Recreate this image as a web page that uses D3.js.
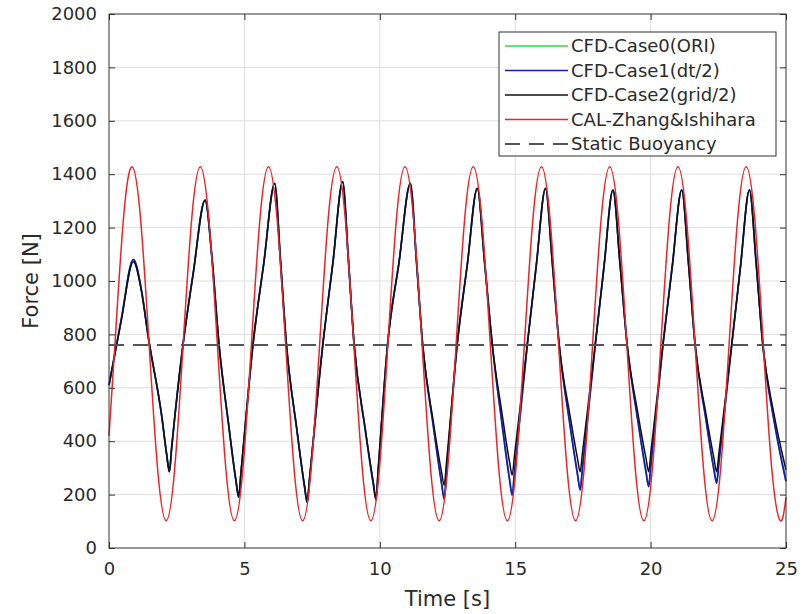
<!DOCTYPE html>
<html>
<head>
<meta charset="utf-8">
<script src="https://cdn.jsdelivr.net/npm/d3@7"></script>
<style>
  body { margin: 0; background: #fff; }
  svg text { font-family: "DejaVu Sans", sans-serif; fill: #2b2b2b; }
</style>
</head>
<body>
<svg width="811" height="614"></svg>
<script>
// --- data ---
var xTicks = [0, 5, 10, 15, 20, 25];
var yTicks = [0, 200, 400, 600, 800, 1000, 1200, 1400, 1600, 1800, 2000];
var staticBuoyancy = 760;

// CAL-Zhang&Ishihara [time, force]
var zhang = [
  [0, 420], [0.22, 765], [0.535, 1234],
  [0.85, 1428], [1.165, 1234], [1.48, 765], [1.795, 296], [2.11, 102], [2.425, 296], [2.74, 765], [3.055, 1234],
  [3.37, 1428], [3.685, 1234], [4.0, 765], [4.315, 296], [4.63, 102], [4.945, 296], [5.26, 765], [5.575, 1234],
  [5.89, 1428], [6.205, 1234], [6.52, 765], [6.835, 296], [7.15, 102], [7.465, 296], [7.78, 765], [8.095, 1234],
  [8.41, 1428], [8.725, 1234], [9.04, 765], [9.355, 296], [9.67, 102], [9.985, 296], [10.3, 765], [10.615, 1234],
  [10.93, 1428], [11.245, 1234], [11.56, 765], [11.875, 296], [12.19, 102], [12.505, 296], [12.82, 765], [13.135, 1234],
  [13.45, 1428], [13.765, 1234], [14.08, 765], [14.395, 296], [14.71, 102], [15.025, 296], [15.34, 765], [15.655, 1234],
  [15.97, 1428], [16.285, 1234], [16.6, 765], [16.915, 296], [17.23, 102], [17.545, 296], [17.86, 765], [18.175, 1234],
  [18.49, 1428], [18.805, 1234], [19.12, 765], [19.435, 296], [19.75, 102], [20.065, 296], [20.38, 765], [20.695, 1234],
  [21.01, 1428], [21.325, 1234], [21.64, 765], [21.955, 296], [22.27, 102], [22.585, 296], [22.9, 765], [23.215, 1234],
  [23.53, 1428], [23.845, 1234], [24.16, 765], [24.475, 296], [24.79, 102], [25, 190]
];

// CFD sample times, shared by the three CFD cases
var cfdTime = [
  0, 0.45, 0.9, 1.2, 1.45, 1.95, 2.13, 2.23, 2.31, 2.74, 3.11, 3.55,
  3.8, 4.06, 4.42, 4.69, 4.79, 4.87, 5.32, 5.72, 6.12,
  6.33, 6.55, 6.93, 7.22, 7.32, 7.4, 7.9, 8.27, 8.63,
  8.84, 9.05, 9.45, 9.76, 9.86, 9.94, 10.29, 10.71, 11.13,
  11.35, 11.58, 11.98, 12.28, 12.38, 12.46, 12.86, 13.23, 13.6,
  13.87, 14.15, 14.52, 14.79, 14.89, 14.97, 15.45, 15.78, 16.12,
  16.37, 16.62, 17.01, 17.3, 17.4, 17.48, 17.96, 18.28, 18.61,
  18.87, 19.13, 19.53, 19.83, 19.93, 20.01, 20.46, 20.8, 21.15,
  21.4, 21.64, 22.04, 22.34, 22.44, 22.52, 23.0, 23.32, 23.65,
  23.9, 24.14, 24.55, 25
];
// CFD-Case2(grid/2)
var case2 = [
  610, 850, 1072, 960, 791, 492, 350, 286, 371, 767, 1029, 1303,
  1090, 765, 460, 252, 192, 278, 765, 1070, 1366,
  1080, 765, 450, 233, 173, 255, 765, 1070, 1372,
  1080, 765, 455, 246, 186, 294, 765, 1070, 1366,
  1080, 765, 470, 285, 235, 318, 765, 1060, 1347,
  1070, 765, 500, 323, 273, 343, 765, 1060, 1347,
  1070, 765, 505, 336, 286, 354, 765, 1055, 1341,
  1065, 765, 505, 336, 286, 358, 765, 1055, 1341,
  1065, 765, 505, 336, 286, 354, 765, 1055, 1341,
  1065, 765, 505, 292
];
// CFD-Case1(dt/2)
var case1 = [
  610, 855, 1080, 965, 791, 492, 350, 286, 371, 767, 1029, 1303,
  1090, 765, 460, 250, 190, 276, 765, 1070, 1366,
  1080, 765, 448, 230, 170, 252, 765, 1070, 1372,
  1080, 765, 452, 240, 180, 288, 765, 1070, 1366,
  1080, 765, 455, 243, 183, 280, 765, 1060, 1347,
  1070, 765, 460, 258, 198, 279, 765, 1060, 1347,
  1070, 765, 470, 277, 217, 295, 765, 1055, 1341,
  1065, 765, 477, 285, 230, 311, 765, 1055, 1341,
  1065, 765, 484, 293, 243, 318, 765, 1055, 1341,
  1065, 765, 482, 250
];
// CFD-Case0(ORI) lies under Case1 in the figure
var case0 = case1;

var legendNames = ["CFD-Case0(ORI)", "CFD-Case1(dt/2)", "CFD-Case2(grid/2)", "CAL-Zhang&Ishihara", "Static Buoyancy"];
var legendColors = ["#3ad63a", "#1a1ab8", "#111111", "#e8262a", "#555555"];

// --- layout ---
var svg = d3.select("svg");
var margin = {left: 109, top: 14, right: 25, bottom: 66};
var width = +svg.attr("width") - margin.left - margin.right,
    height = +svg.attr("height") - margin.top - margin.bottom;

var x = d3.scaleLinear().domain([0, 25]).range([0, width]);
var y = d3.scaleLinear().domain([0, 2000]).range([height, 0]);

var g = svg.append("g")
    .attr("transform", "translate(" + margin.left + "," + margin.top + ")");

g.append("rect").attr("width", width).attr("height", height).attr("fill", "#fff");

// grid
g.append("g").selectAll("line").data(xTicks.slice(1, -1)).enter().append("line")
    .attr("x1", x).attr("x2", x).attr("y1", 0).attr("y2", height)
    .attr("stroke", "#dedede");
g.append("g").selectAll("line").data(yTicks.slice(1, -1)).enter().append("line")
    .attr("y1", y).attr("y2", y).attr("x1", 0).attr("x2", width)
    .attr("stroke", "#dedede");

var plot = g.append("g");

function cfdLine(vals) {
  return d3.line()
      .x(function(d, i) { return x(cfdTime[i]); })
      .y(function(d) { return y(d); })
      .curve(d3.curveMonotoneX)(vals);
}

plot.append("path").attr("d", cfdLine(case0))
    .attr("fill", "none").attr("stroke", legendColors[0]).attr("stroke-width", 1.6);
plot.append("path").attr("d", cfdLine(case1))
    .attr("fill", "none").attr("stroke", legendColors[1]).attr("stroke-width", 1.8);
plot.append("path").attr("d", cfdLine(case2))
    .attr("fill", "none").attr("stroke", legendColors[2]).attr("stroke-width", 1.5);

plot.append("path")
    .attr("d", d3.line()
      .x(function(d) { return x(d[0]); })
      .y(function(d) { return y(d[1]); })
      .curve(d3.curveNatural)(zhang))
    .attr("fill", "none").attr("stroke", legendColors[3]).attr("stroke-width", 1.5);

plot.append("line")
    .attr("x1", x(0)).attr("x2", x(25))
    .attr("y1", y(staticBuoyancy)).attr("y2", y(staticBuoyancy))
    .attr("stroke", legendColors[4]).attr("stroke-width", 2)
    .attr("stroke-dasharray", "15,9");

// axes (MATLAB style: inward ticks on all sides)
function styleAxis(sel) {
  sel.select(".domain").remove();
  sel.selectAll(".tick line").attr("stroke", "#333");
  sel.selectAll(".tick text").attr("font-size", 18).attr("fill", "#333");
}

g.append("g").attr("transform", "translate(0," + height + ")")
    .call(d3.axisBottom(x).tickValues(xTicks).tickSize(-6).tickPadding(14).tickFormat(d3.format("d")))
    .call(styleAxis);
g.append("g")
    .call(d3.axisTop(x).tickValues(xTicks).tickSize(-6).tickFormat(""))
    .call(styleAxis);
g.append("g")
    .call(d3.axisLeft(y).tickValues(yTicks).tickSize(-6).tickPadding(12).tickFormat(d3.format("d")))
    .call(styleAxis);
g.append("g").attr("transform", "translate(" + width + ",0)")
    .call(d3.axisRight(y).tickValues(yTicks).tickSize(-6).tickFormat(""))
    .call(styleAxis);

g.append("rect").attr("width", width).attr("height", height)
    .attr("fill", "none").attr("stroke", "#333").attr("stroke-width", 1);

// axis labels
svg.append("text")
    .attr("x", margin.left + width / 2).attr("y", 606)
    .attr("text-anchor", "middle").attr("font-size", 21).attr("fill", "#333")
    .text("Time [s]");
svg.append("text")
    .attr("transform", "translate(38," + (margin.top + height / 2) + ") rotate(-90)")
    .attr("text-anchor", "middle").attr("font-size", 21).attr("fill", "#333")
    .text("Force [N]");

// legend
var legend = svg.append("g").attr("transform", "translate(499,32)");
legend.append("rect").attr("width", 277).attr("height", 124)
    .attr("fill", "#fff").attr("stroke", "#333").attr("stroke-width", 1);
var item = legend.selectAll(".item").data(legendNames).enter().append("g")
    .attr("transform", function(d, i) { return "translate(0," + (14 + i * 24.5) + ")"; });
item.append("line")
    .attr("x1", 6).attr("x2", 69).attr("y1", 0).attr("y2", 0)
    .attr("stroke", function(d, i) { return legendColors[i]; })
    .attr("stroke-width", function(d, i) { return i == 4 ? 2 : 1.6; })
    .attr("stroke-dasharray", function(d, i) { return i == 4 ? "15,9" : null; });
item.append("text")
    .attr("x", 72).attr("y", 0).attr("dy", "0.35em")
    .attr("font-size", 18)
    .text(function(d) { return d; });
</script>
</body>
</html>
